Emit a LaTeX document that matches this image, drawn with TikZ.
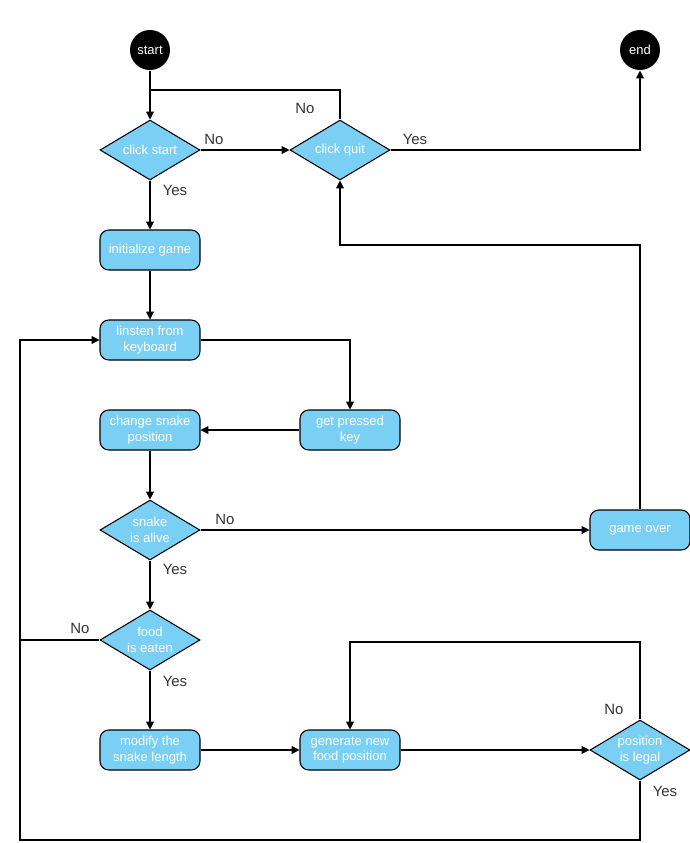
\documentclass[tikz,border=0pt]{standalone}
\usepackage{fontspec}
\setmainfont{Liberation Sans}
\usetikzlibrary{arrows.meta, shapes.geometric}

\definecolor{boxblue}{HTML}{7ACFF5}

\begin{document}
\begin{tikzpicture}[
  x=0.02cm, y=-0.02cm,
  font=\fontsize{7.4}{8.8}\selectfont,
  line width=0.6pt,
  >={Triangle[length=4.5pt,width=4.5pt]},
  process/.style={rectangle, rounded corners=5pt, draw, fill=boxblue, text=white,
    minimum width=2cm, minimum height=0.8cm, align=center, inner sep=1pt},
  test/.style={diamond, draw, fill=boxblue, text=white, aspect=1.667,
    minimum width=2cm, minimum height=1.2cm, align=center, inner sep=0pt},
  term/.style={circle, fill=black, text=white, minimum size=0.8cm, inner sep=0pt},
  lbl/.style={font=\fontsize{8.5}{10}\selectfont, text=black!80}
]
\useasboundingbox (0,0) rectangle (690,843);

% ------------------- nodes ------------------- %
\node[term] (start) at (150,50) {start};
\node[term] (end) at (640,50) {end};
\node[test] (clickstart) at (150,150) {click start};
\node[test] (clickquit) at (340,150) {click quit};
\node[process] (init) at (150,250) {initialize game};
\node[process] (listen) at (150,340) {linsten from\\keyboard};
\node[process] (getkey) at (350,430) {get pressed\\key};
\node[process] (change) at (150,430) {change snake\\position};
\node[test] (alive) at (150,530) {snake\\is alive};
\node[process] (over) at (640,530) {game over};
\node[test] (eaten) at (150,640) {food\\is eaten};
\node[process] (modify) at (150,750) {modify the\\snake length};
\node[process] (generate) at (350,750) {generate new\\food position};
\node[test] (legal) at (640,750) {position\\is legal};

% ------------------- connectors ------------------- %
\draw[->] (start) -- (clickstart);
\draw (clickquit.north) -- (340,90) -- (150,90);
\draw[->] (clickstart) -- (clickquit);
\draw[->] (clickquit.east) -- (640,150) -- (end.south);
\draw[->] (clickstart) -- (init);
\draw[->] (init) -- (listen);
\draw[->] (listen.east) -- (350,340) -- (getkey.north);
\draw[->] (getkey) -- (change);
\draw[->] (change) -- (alive);
\draw[->] (alive) -- (over);
\draw[->] (over.north) -- (640,245) -- (340,245) -- (clickquit.south);
\draw[->] (alive) -- (eaten);
\draw[->] (eaten.west) -- (20,640) -- (20,340) -- (listen.west);
\draw[->] (eaten) -- (modify);
\draw[->] (modify) -- (generate);
\draw[->] (generate) -- (legal);
\draw[->] (legal.north) -- (640,642) -- (350,642) -- (generate.north);
\draw (legal.south) -- (640,840) -- (20,840) -- (20,640);

% ------------------- labels ------------------- %
\node[lbl] at (305,108) {No};
\node[lbl] at (214,139) {No};
\node[lbl] at (415,139) {Yes};
\node[lbl] at (175,190) {Yes};
\node[lbl] at (225,519) {No};
\node[lbl] at (175,569) {Yes};
\node[lbl] at (80,628) {No};
\node[lbl] at (175,681) {Yes};
\node[lbl] at (614,709) {No};
\node[lbl] at (665,791) {Yes};
\end{tikzpicture}
\end{document}
